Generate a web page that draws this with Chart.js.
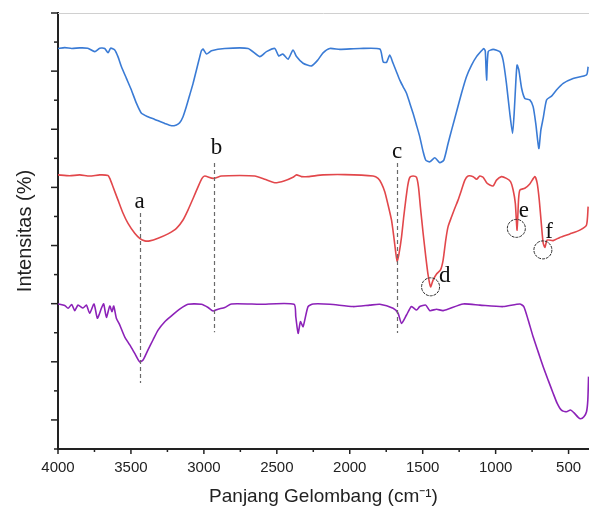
<!DOCTYPE html>
<html><head><meta charset="utf-8">
<script src="https://cdn.jsdelivr.net/npm/chart.js@4.4.1/dist/chart.umd.min.js"></script>
<style>html,body{margin:0;padding:0;background:#fff}#wrap{width:589px;height:509px;position:relative}</style>
</head><body><div id="wrap"><canvas id="c"></canvas></div>
<script>
// ---- axis ticks ----
const xTickLabels = [500, 1000, 1500, 2000, 2500, 3000, 3500, 4000];
const xMinorTicks = [750, 1250, 1750, 2250, 2750, 3250, 3750];
const yMajorTicks = [1, 3, 5, 7, 9, 11, 13, 15];
const yMinorTicks = [0, 2, 4, 6, 8, 10, 12, 14];

// ---- series (wavenumber, intensity) ----
const blueWn = [4000,3954,3906,3851,3796,3748,3714,3680,3657,3639,3611,3589,3565,3531,3497,3462,3428,3383,3337,3268,3222,3188,3166,3143,3120,3097,3074,3051,3028,3017,3006,2982,2948,2857,2697,2617,2571,2514,2487,2459,2423,2389,2365,2320,2262,2219,2183,2137,2068,1931,1794,1771,1748,1726,1703,1680,1657,1634,1611,1588,1566,1543,1520,1497,1479,1451,1417,1383,1355,1326,1302,1268,1234,1200,1165,1131,1097,1081,1071,1062,1051,1017,971,949,926,903,884,873,861,853,841,822,800,766,743,725,704,690,674,651,617,583,537,469,377,366];
const blueT = [13.78,13.81,13.78,13.80,13.79,13.67,13.79,13.78,13.63,13.79,13.73,13.50,13.15,12.75,12.35,11.89,11.55,11.43,11.34,11.20,11.12,11.15,11.22,11.43,11.78,12.18,12.58,13.04,13.50,13.70,13.76,13.59,13.70,13.78,13.78,13.50,13.67,13.78,13.52,13.59,13.41,13.73,13.50,13.27,13.18,13.38,13.63,13.78,13.75,13.78,13.76,13.32,13.30,13.55,13.27,12.98,12.69,12.46,12.24,11.89,11.55,11.15,10.74,10.23,9.94,9.88,10.02,9.85,9.94,10.51,10.97,11.60,12.24,12.81,13.21,13.50,13.70,13.78,13.69,12.69,13.67,13.75,13.67,13.38,12.58,11.55,10.86,11.55,12.69,13.21,13.04,12.41,12.06,12.01,11.78,11.20,10.34,10.97,11.38,12.01,12.14,12.35,12.58,12.75,12.87,13.15];

const redWn = [4000,3920,3851,3783,3714,3657,3645,3623,3589,3554,3520,3474,3440,3405,3371,3314,3246,3188,3143,3109,3074,3040,3013,2994,2937,2880,2754,2651,2583,2514,2446,2389,2365,2331,2286,2183,2034,1840,1806,1783,1760,1737,1714,1698,1684,1675,1662,1645,1630,1616,1602,1588,1566,1543,1529,1516,1497,1479,1463,1446,1429,1405,1378,1360,1342,1326,1302,1280,1257,1234,1211,1189,1154,1131,1108,1086,1062,1040,1017,994,960,926,898,880,865,853,843,834,800,766,731,715,701,687,674,662,647,606,560,491,423,377,366];
const redT = [9.43,9.40,9.43,9.39,9.43,9.41,9.31,9.02,8.57,8.11,7.76,7.42,7.25,7.16,7.16,7.25,7.40,7.59,7.88,8.22,8.62,9.02,9.31,9.39,9.31,9.39,9.41,9.39,9.28,9.16,9.23,9.35,9.43,9.37,9.37,9.43,9.44,9.39,9.31,9.14,8.85,8.39,7.88,7.30,6.73,6.44,6.73,7.30,7.99,8.57,9.08,9.35,9.39,9.35,9.02,8.34,7.42,6.62,5.99,5.58,5.81,6.02,6.16,6.50,7.19,7.65,7.99,8.28,8.57,8.91,9.25,9.39,9.37,9.28,9.39,9.35,9.16,9.08,9.05,9.25,9.37,9.31,9.20,8.91,8.45,7.53,8.57,8.91,8.97,9.12,9.37,9.14,8.57,7.76,7.08,6.94,7.19,7.17,7.28,7.40,7.53,7.71,8.34];

const purpleWn = [4000,3954,3931,3906,3885,3863,3829,3805,3783,3753,3730,3702,3687,3668,3645,3630,3618,3600,3577,3543,3508,3474,3440,3417,3383,3349,3314,3268,3222,3166,3109,3017,2971,2937,2903,2857,2811,2617,2382,2370,2354,2338,2320,2286,2251,2137,1977,1863,1794,1703,1669,1645,1611,1577,1542,1520,1479,1451,1405,1360,1223,1108,949,834,807,777,743,709,674,640,606,578,549,514,487,464,434,418,395,377,368,363];
const purpleT = [4.99,4.94,4.84,4.97,4.76,4.95,4.85,4.95,4.67,4.99,4.50,4.85,4.99,4.53,4.92,4.72,4.92,4.50,4.27,3.86,3.58,3.29,3.00,3.06,3.41,3.75,4.09,4.38,4.58,4.81,4.98,4.98,4.87,4.75,4.81,4.87,4.99,4.98,4.98,4.55,3.98,4.38,4.21,4.90,4.99,4.98,4.90,4.95,4.98,4.84,4.67,4.32,4.61,4.90,4.78,4.90,4.95,4.76,4.81,4.76,4.99,4.95,4.90,4.99,4.90,4.44,3.86,3.35,2.83,2.37,1.92,1.57,1.34,1.28,1.34,1.25,1.09,1.04,1.11,1.28,1.69,2.49];

// ---- annotations: dashed marker lines a, b, c ----
const markLabels = ['a', 'b', 'c'];
const markWn = [3438, 2930, 1675];
const markTop = [8.12, 9.84, 9.84];
const markBottom = [2.27, 4.02, 3.99];
const markLabelWn = [3440, 2914, 1675];
const markLabelT = [8.28, 10.15, 10.0];

// ---- annotations: circled peaks d, e, f ----
const ringLabels = ['d', 'e', 'f'];
const ringWn = [1446, 858, 676];
const ringT = [5.58, 7.59, 6.85];
const ringLabelWn = [1348, 807, 633];
const ringLabelT = [5.76, 7.97, 7.25];

const toPts = (xs, ys) => xs.map((v, i) => ({x: v, y: ys[i]}));

const decor = {
  id: 'decor',
  afterDatasetsDraw(chart) {
    const {ctx, chartArea: a, scales} = chart;
    const x = scales.x, y = scales.y;
    const seg = (x0, y0, x1, y1) => { ctx.beginPath(); ctx.moveTo(x0, y0); ctx.lineTo(x1, y1); ctx.stroke(); };
    ctx.save();
    // light top frame
    ctx.strokeStyle = '#d0d0d0'; ctx.lineWidth = 1;
    seg(a.left, a.top + 0.5, a.right, a.top + 0.5);
    // tick marks
    ctx.strokeStyle = '#222'; ctx.lineWidth = 1.5;
    xTickLabels.forEach(v => { const p = x.getPixelForValue(v); seg(p, a.bottom, p, a.bottom + 5); });
    xMinorTicks.forEach(v => { const p = x.getPixelForValue(v); seg(p, a.bottom, p, a.bottom + 3); });
    yMajorTicks.forEach(v => { const p = y.getPixelForValue(v); seg(a.left - 7, p, a.left, p); });
    yMinorTicks.forEach(v => { const p = y.getPixelForValue(v); seg(a.left - 4, p, a.left, p); });
    // dashed marker lines
    ctx.strokeStyle = '#6a6a6a'; ctx.lineWidth = 1.2; ctx.setLineDash([4, 3]);
    markWn.forEach((v, i) => {
      const p = Math.round(x.getPixelForValue(v)) + 0.5;
      seg(p, y.getPixelForValue(markTop[i]), p, y.getPixelForValue(markBottom[i]));
    });
    // circles
    ctx.strokeStyle = '#2a2a2a'; ctx.lineWidth = 1; ctx.setLineDash([3, 1]);
    ringWn.forEach((v, i) => {
      ctx.beginPath();
      ctx.arc(x.getPixelForValue(v), y.getPixelForValue(ringT[i]), 9, 0, Math.PI * 2);
      ctx.stroke();
    });
    ctx.setLineDash([]);
    // letters
    ctx.fillStyle = '#111';
    ctx.font = '23px "Liberation Serif", "Times New Roman", serif';
    ctx.textAlign = 'center'; ctx.textBaseline = 'alphabetic';
    markLabels.forEach((t, i) => ctx.fillText(t, x.getPixelForValue(markLabelWn[i]), y.getPixelForValue(markLabelT[i])));
    ringLabels.forEach((t, i) => ctx.fillText(t, x.getPixelForValue(ringLabelWn[i]), y.getPixelForValue(ringLabelT[i])));
    ctx.restore();
  }
};

const lineDs = (label, xs, ys, color) => ({
  label, data: toPts(xs, ys), borderColor: color, backgroundColor: color,
  borderWidth: 1.6, pointRadius: 0, tension: 0.2, fill: false
});

new Chart(document.getElementById('c'), {
  type: 'line',
  data: {
    datasets: [
      lineDs('Sampel 1', blueWn, blueT, '#3a7bd5'),
      lineDs('Sampel 2', redWn, redT, '#e2474b'),
      lineDs('Sampel 3', purpleWn, purpleT, '#8c22b8')
    ]
  },
  options: {
    responsive: true, maintainAspectRatio: false, animation: false, devicePixelRatio: 1,
    layout: {padding: {top: 13, right: 0, left: 0, bottom: 0}},
    plugins: {legend: {display: false}, tooltip: {enabled: false}},
    scales: {
      x: {
        type: 'linear', reverse: true, min: 360, max: 4000,
        afterBuildTicks: s => { s.ticks = xTickLabels.map(v => ({value: v})); },
        afterFit: s => { s.height = 60; },
        grid: {display: true, drawOnChartArea: false, drawTicks: false},
        border: {display: true, color: '#222', width: 2},
        ticks: {autoSkip: false, maxRotation: 0, padding: 10, color: '#222',
                callback: v => String(v),
                font: {family: '"Liberation Sans", Arial, sans-serif', size: 15}},
        title: {display: true, text: 'Panjang Gelombang (cm⁻¹)', color: '#222',
                padding: {top: 0, bottom: 1},
                font: {family: '"Liberation Sans", Arial, sans-serif', size: 19}}
      },
      y: {
        type: 'linear', min: 0, max: 15,
        afterFit: s => { s.width = 58; },
        grid: {display: true, drawOnChartArea: false, drawTicks: false},
        border: {display: true, color: '#222', width: 2},
        ticks: {display: false},
        title: {display: true, text: 'Intensitas (%)', color: '#222',
                padding: {top: 13, bottom: 0},
                font: {family: '"Liberation Sans", Arial, sans-serif', size: 20}}
      }
    }
  },
  plugins: [decor]
});
</script></body></html>
